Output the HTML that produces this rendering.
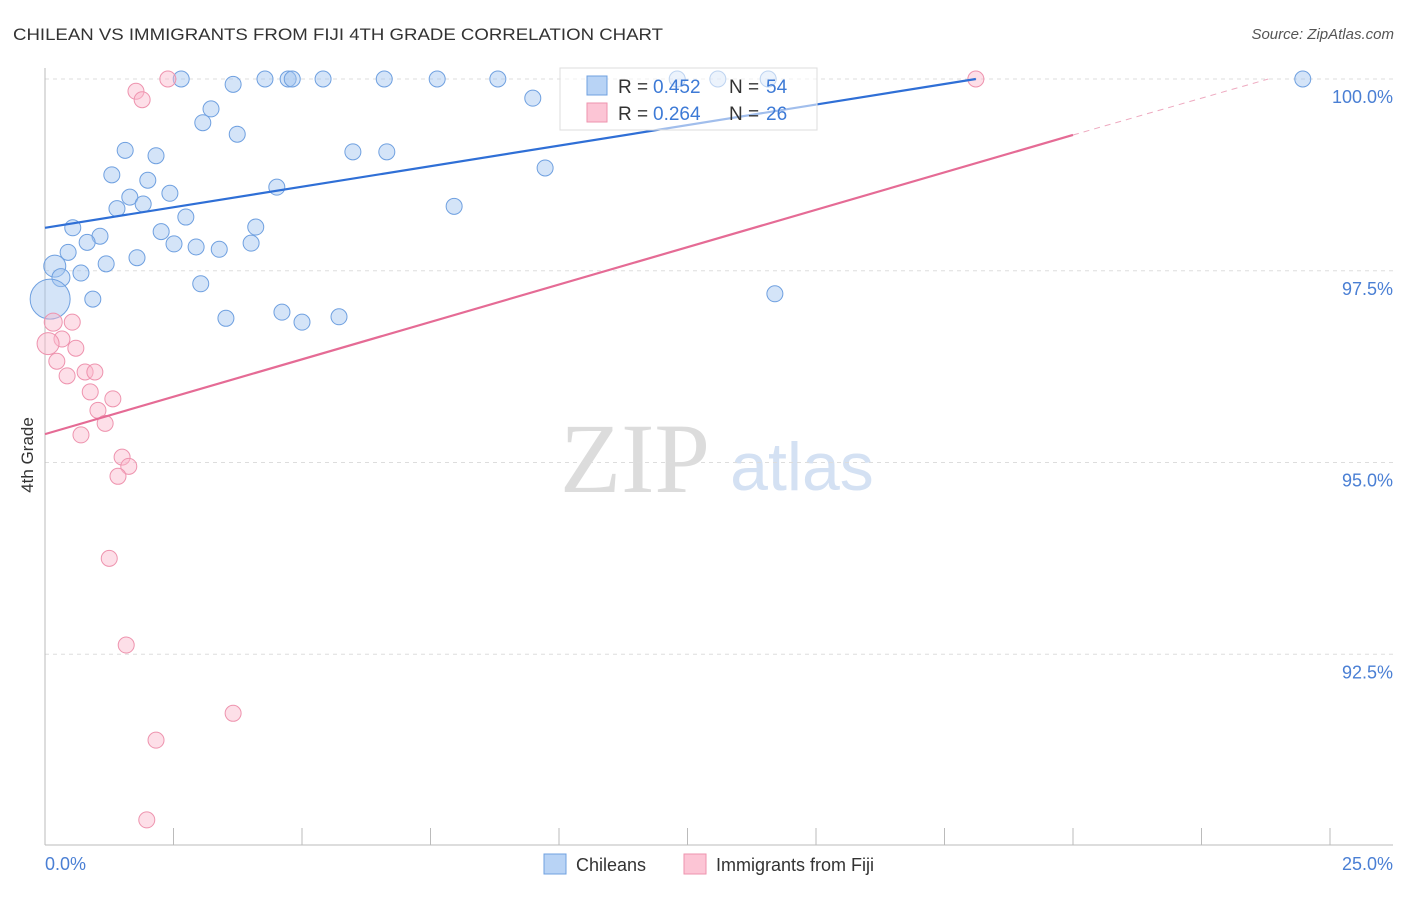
<!DOCTYPE html>
<html><head><meta charset="utf-8"><style>
body{margin:0;background:#fff;font-family:"Liberation Sans",sans-serif;}
</style></head><body>
<svg id="chart" width="1406" height="892" xmlns="http://www.w3.org/2000/svg" font-family="Liberation Sans, sans-serif">
<text x="13" y="40" font-size="17" fill="#333" textLength="650" lengthAdjust="spacingAndGlyphs">CHILEAN VS IMMIGRANTS FROM FIJI 4TH GRADE CORRELATION CHART</text>
<text x="1394" y="39" font-size="15" fill="#555" text-anchor="end" font-style="italic">Source: ZipAtlas.com</text>
<g>
<text x="635" y="492" font-size="100" fill="#dcdcdc" text-anchor="middle" style="font-family:'Liberation Serif',serif">ZIP</text>
<text x="802" y="490" font-size="68" fill="#d4e1f3" text-anchor="middle">atlas</text>
</g>
<g id="grid"></g>
<g id="axes"></g>
<g id="marks"></g>
<text transform="translate(33,455) rotate(-90)" font-size="17" fill="#333" text-anchor="middle">4th Grade</text>
<g>
<rect x="560" y="68" width="257" height="62" fill="rgba(255,255,255,0.55)" stroke="#ddd"/>
<rect x="587" y="76" width="20" height="19" fill="#b8d3f5" stroke="#6fa0e0"/>
<rect x="587" y="103" width="20" height="19" fill="#fcc5d5" stroke="#ee93ae"/>
<text x="618" y="93" font-size="19" fill="#333">R =</text>
<text x="653" y="93" font-size="19" fill="#3d7ad6">0.452</text>
<text x="729" y="93" font-size="19" fill="#333">N =</text>
<text x="766" y="93" font-size="19" fill="#3d7ad6">54</text>
<text x="618" y="120" font-size="19" fill="#333">R =</text>
<text x="653" y="120" font-size="19" fill="#3d7ad6">0.264</text>
<text x="729" y="120" font-size="19" fill="#333">N =</text>
<text x="766" y="120" font-size="19" fill="#3d7ad6">26</text>
</g>
<g>
<rect x="544" y="854" width="22" height="20" fill="#b8d3f5" stroke="#6fa0e0"/>
<text x="576" y="871" font-size="18" fill="#333">Chileans</text>
<rect x="684" y="854" width="22" height="20" fill="#fcc5d5" stroke="#ee93ae"/>
<text x="716" y="871" font-size="18" fill="#333">Immigrants from Fiji</text>
</g>
</svg>
<script>
const xTicks=[0,2.5,5,7.5,10,12.5,15,17.5,20,22.5,25];
const yTicks=[100,97.5,95,92.5];
const yTickLabels=["100.0%","97.5%","95.0%","92.5%"];
const xEndLabels=["0.0%","25.0%"];
const chileX=[2.65,3.66,4.28,4.73,4.81,5.41,6.60,7.63,8.81,12.30,13.09,14.07,24.47,9.49,3.23,3.07,3.74,1.56,2.16,5.99,6.65,9.73,1.30,2.00,4.51,1.65,2.43,1.91,1.40,7.96,2.74,0.54,4.10,2.26,1.07,0.82,2.51,2.94,3.39,4.01,0.45,1.79,1.19,0.19,0.70,0.31,3.03,0.93,0.10,14.20,3.52,4.61,5.00,5.72];
const chileY=[100,99.93,100,100,100,100,100,100,100,100,100,100,100,99.75,99.61,99.43,99.28,99.07,99.00,99.05,99.05,98.84,98.75,98.68,98.59,98.46,98.51,98.37,98.31,98.34,98.20,98.06,98.07,98.01,97.95,97.87,97.85,97.81,97.78,97.86,97.74,97.67,97.59,97.56,97.47,97.41,97.33,97.13,97.13,97.20,96.88,96.96,96.83,96.90];
const chileR=[8,8,8,8,8,8,8,8,8,8,8,8,8,8,8,8,8,8,8,8,8,8,8,8,8,8,8,8,8,8,8,8,8,8,8,8,8,8,8,8,8,8,8,11,8,9,8,8,20,8,8,8,8,8];
const fijiX=[2.39,18.11,1.77,1.89,0.16,0.53,0.33,0.06,0.60,0.23,0.43,0.78,0.97,0.88,1.32,1.03,1.17,0.70,1.50,1.63,1.42,1.25,1.58,3.66,2.16,1.98];
const fijiY=[100,100,99.84,99.73,96.83,96.83,96.61,96.55,96.49,96.32,96.13,96.18,96.18,95.92,95.83,95.68,95.51,95.36,95.07,94.95,94.82,93.75,92.62,91.73,91.38,90.34];
const fijiR=[8,8,8,8,9,8,8,11,8,8,8,8,8,8,8,8,8,8,8,8,8,8,8,8,8,8];
const chileTrend=[98.06,100.0];
const chileTrendX=[0,18.11];
const fijiTrend=[95.37,99.27,100.0];
const fijiTrendX=[0,20,23.8];

const X0=45,X1=1330,YTOP=79,PXPER=76.7;
const sx=v=>X0+(v/25)*(X1-X0);
const sy=v=>YTOP+(100-v)*PXPER;
const NS="http://www.w3.org/2000/svg";
function mk(tag,attrs,parent){const e=document.createElementNS(NS,tag);for(const k in attrs)e.setAttribute(k,attrs[k]);parent.appendChild(e);return e;}
const grid=document.getElementById('grid'),axes=document.getElementById('axes'),marks=document.getElementById('marks');
yTicks.forEach((t,i)=>{
  const l=mk('line',{x1:45,x2:1393,y1:sy(t),y2:sy(t),stroke:'#ddd','stroke-dasharray':'4,4'},grid);
  
  
  const tx=mk('text',{x:1393,y:sy(t)+24,'font-size':18,fill:'#4a7fd4','text-anchor':'end'},axes);
  tx.textContent=yTickLabels[i];
  
  
});
const xa=mk('line',{x1:45,x2:1393,y1:845,y2:845,stroke:'#bbb'},axes);


const ya=mk('line',{x1:45,x2:45,y1:68,y2:845,stroke:'#bbb'},axes);


xTicks.forEach(t=>{
  const l=mk('line',{x1:sx(t),x2:sx(t),y1:828,y2:845,stroke:'#bbb'},axes);
  
  
});
const xl0=mk('text',{x:45,y:870,'font-size':18,fill:'#4a7fd4'},axes);xl0.textContent=xEndLabels[0];


const xl1=mk('text',{x:1393,y:870,'font-size':18,fill:'#4a7fd4','text-anchor':'end'},axes);xl1.textContent=xEndLabels[1];


chileX.forEach((x,i)=>{
  const c=mk('circle',{cx:sx(x),cy:sy(chileY[i]),r:chileR[i],fill:'rgba(160,195,240,0.45)',stroke:'#6fa0e0','stroke-width':1},marks);
  
  
});
fijiX.forEach((x,i)=>{
  const c=mk('circle',{cx:sx(x),cy:sy(fijiY[i]),r:fijiR[i],fill:'rgba(250,185,205,0.45)',stroke:'#ee93ae','stroke-width':1},marks);
  
  
});
const bl=mk('line',{x1:sx(chileTrendX[0]),y1:sy(chileTrend[0]),x2:sx(chileTrendX[1]),y2:sy(chileTrend[1]),stroke:'#2f6fd6','stroke-width':2.2},marks);


const pl=mk('line',{x1:sx(fijiTrendX[0]),y1:sy(fijiTrend[0]),x2:sx(fijiTrendX[1]),y2:sy(fijiTrend[1]),stroke:'#e56b95','stroke-width':2.2},marks);


const pd=mk('line',{x1:sx(fijiTrendX[1]),y1:sy(fijiTrend[1]),x2:sx(fijiTrendX[2]),y2:sy(fijiTrend[2]),stroke:'#eeaac0','stroke-width':1,'stroke-dasharray':'6,5'},marks);


</script>
</body></html>
